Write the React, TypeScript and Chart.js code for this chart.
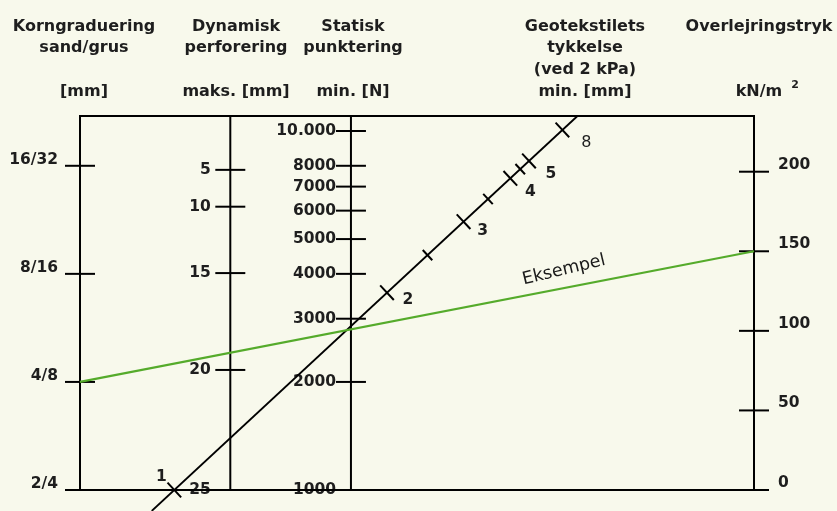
import React, { useEffect, useRef } from 'react';
import { Chart, registerables, LinearScale } from 'chart.js';

Chart.register(...registerables);

// ---------------- data ----------------
const GRAIN_CLASSES = ['2/4', '4/8', '8/16', '16/32'];
const GRAIN_LOWER = [2, 4, 8, 16];
const DYN_TICKS = [5, 10, 15, 20, 25];
const DYN_POS = [0.856, 0.7575, 0.58, 0.321, 0];
const STAT_TICKS = [1000, 2000, 3000, 4000, 5000, 6000, 7000, 8000, 10000];
const PRESS_TICKS = [0, 50, 100, 150, 200];
const THICK_LABELLED = [1, 2, 3, 4, 5, 8];
const THICK_MINOR = [2.5, 3.5, 4.5];
const THICK_VALUES = [1, 2, 2.5, 3, 3.5, 4, 4.5, 5, 8];
const THICK_POS = [0, 0.5275, 0.628, 0.7174, 0.778, 0.8334, 0.858, 0.8797, 0.9626];
const EXAMPLE_GRAIN = 4; // class '4/8'
const EXAMPLE_PRESS = 150;
const EXAMPLE_LABEL = 'Eksempel';

const HEAD_KORN = ['Korngraduering', 'sand/grus', '', '[mm]'];
const HEAD_DYN = ['Dynamisk', 'perforering', '', 'maks. [mm]'];
const HEAD_STAT = ['Statisk', 'punktering', '', 'min. [N]'];
const HEAD_GEO = ['Geotekstilets', 'tykkelse', '(ved 2 kPa)', 'min. [mm]'];
const HEAD_OVER = ['Overlejringstryk', '', '', 'kN/m'];
const UNIT_SUP = '2';

// scale ranges
const STAT_MIN = 1000;
const STAT_MAX = 11010;
const GRAIN_MIN = 2;
const GRAIN_MAX = (GRAIN_MIN * STAT_MAX) / STAT_MIN;
const PRESS_MAX = 235;

// ---------------- layout / style ----------------
const W = 837;
const H = 511;
const BG = '#f8f9ec';
const INK = '#000000';
const TEXT = '#1e1e1e';
const GREEN = '#55ab2b';
const FONT = '"DejaVu Sans", sans-serif';

// nomogram units: chart area spans 0..100 horizontally and vertically
const X_GRAIN = 0;
const X_DYN = 22.3;
const X_STAT = 40.2;
const X_PRESS = 100;
const X_DYN_LBL = 19.4;
const X_STAT_LBL = 38.0;
const DIAG = { x0: 10.64, y0: -5.61, x1: 73.81, y1: 100 };

function interp(v: number, xs: number[], ys: number[]) {
  for (let i = 0; i < xs.length - 1; i++) {
    const a = xs[i];
    const b = xs[i + 1];
    if ((v - a) * (v - b) <= 0 && a !== b) return ys[i] + ((ys[i + 1] - ys[i]) * (v - a)) / (b - a);
  }
  const n = xs.length;
  const i = Math.abs(v - xs[0]) < Math.abs(v - xs[n - 1]) ? 0 : n - 2;
  return ys[i] + ((ys[i + 1] - ys[i]) * (v - xs[i])) / (xs[i + 1] - xs[i]);
}

const diagX = (f: number) =>
  (DIAG.x0 + ((DIAG.x1 - DIAG.x0) * (100 * f - DIAG.y0)) / (DIAG.y1 - DIAG.y0)) / 100;

function makeAnchoredScale(id: string, values: number[], decimals: number[], tickValues: number[]) {
  return class extends LinearScale {
    static id = id;
    static defaults = {};
    determineDataLimits() {
      (this as any).min = Math.min(...values);
      (this as any).max = Math.max(...values);
    }
    buildTicks() {
      return tickValues.map((v) => ({ value: v }));
    }
    getPixelForValue(v: number) {
      return this.getPixelForDecimal(interp(v, values, decimals));
    }
    getValueForPixel(p: number) {
      return interp(this.getDecimalForPixel(p), decimals, values);
    }
  };
}

const DynScale = makeAnchoredScale('dynAnchored', DYN_TICKS, DYN_POS, DYN_TICKS);
const ThickYScale = makeAnchoredScale('thickYAnchored', THICK_VALUES, THICK_POS, THICK_VALUES);
const ThickXScale = makeAnchoredScale('thickXAnchored', THICK_VALUES, THICK_POS.map(diagX), THICK_VALUES);
Chart.register(DynScale as any, ThickYScale as any, ThickXScale as any);

const tickFont = { family: FONT, size: 15.5, weight: 'bold' as const };

const lineDs = (data: any[], color: string, width: number) => ({
  data,
  showLine: true,
  borderColor: color,
  borderWidth: width,
  pointRadius: 0,
  xAxisID: 'x',
  yAxisID: 'y',
  clip: false as any,
});

const tickDs = (data: any[], xAxisID: string, yAxisID: string, radius: number, rotation: number, width: number) => ({
  data,
  showLine: false,
  pointStyle: 'line' as const,
  pointRadius: radius,
  pointRotation: rotation,
  pointBorderWidth: width,
  pointBorderColor: INK,
  pointBackgroundColor: INK,
  xAxisID,
  yAxisID,
  clip: false as any,
});

const noGrid = (tickLength: number) => ({
  grid: { display: false, drawTicks: tickLength > 0, tickLength },
  border: { display: false },
});

const textPlugin = {
  id: 'nomoText',
  afterDraw(chart: any) {
    const ctx = chart.ctx as CanvasRenderingContext2D;
    ctx.save();
    ctx.fillStyle = TEXT;
    ctx.textAlign = 'center';
    ctx.textBaseline = 'alphabetic';
    ctx.font = `bold 16px ${FONT}`;
    const rows = [31, 52, 74, 96];
    const cols: [string[], number][] = [
      [HEAD_KORN, 84],
      [HEAD_DYN, 236],
      [HEAD_STAT, 353],
      [HEAD_GEO, 585],
      [HEAD_OVER, 759],
    ];
    cols.forEach(([lines, cx]) => {
      lines.forEach((t, r) => {
        if (t) ctx.fillText(t, cx, rows[r]);
      });
    });
    // superscript of kN/m2
    const wUnit = ctx.measureText(HEAD_OVER[3]).width;
    ctx.font = `bold 11px ${FONT}`;
    ctx.textAlign = 'left';
    ctx.fillText(UNIT_SUP, 759 + wUnit / 2 + 9, 88);

    // thickness labels along the diagonal
    const sx = chart.scales.thickX;
    const sy = chart.scales.thickY;
    const offs = [[-13, -13.5], [21, 7], [19, 9], [20, 14], [22, 13], [24, 12.5]];
    ctx.textAlign = 'center';
    ctx.textBaseline = 'middle';
    THICK_LABELLED.forEach((t, i) => {
      const px = sx.getPixelForValue(t);
      const py = sy.getPixelForValue(t);
      ctx.font = t === 8 ? `16px ${FONT}` : `bold 15.5px ${FONT}`;
      ctx.fillText(String(t), px + offs[i][0], py + offs[i][1]);
    });

    // example label
    const lx = chart.scales.x.getPixelForValue(X_GRAIN);
    const ly = chart.scales.grain.getPixelForValue(EXAMPLE_GRAIN);
    const rx = chart.scales.x.getPixelForValue(X_PRESS);
    const ry = chart.scales.press.getPixelForValue(EXAMPLE_PRESS);
    const u = 0.718;
    ctx.translate(lx + u * (rx - lx), ly + u * (ry - ly) - 18);
    ctx.rotate((-13.5 * Math.PI) / 180);
    ctx.font = `17.5px ${FONT}`;
    ctx.fillStyle = '#1a1a1a';
    ctx.fillText(EXAMPLE_LABEL, 0, 0);
    ctx.restore();
  },
};

export default function App() {
  const ref = useRef<HTMLCanvasElement>(null);
  useEffect(() => {
    const canvas = ref.current;
    if (!canvas) return;
    Chart.defaults.font.family = FONT;
    const chart = new Chart(canvas, {
      type: 'scatter',
      data: {
        datasets: [
          lineDs([], GREEN, 2.2) as any,
          lineDs([{ x: DIAG.x0, y: DIAG.y0 }, { x: DIAG.x1, y: DIAG.y1 }], INK, 1.8),
          lineDs(
            [
              { x: X_GRAIN, y: 0 },
              { x: X_GRAIN, y: 100 },
              { x: X_PRESS, y: 100 },
              { x: X_PRESS, y: 0 },
              { x: X_GRAIN, y: 0 },
            ],
            INK,
            2
          ),
          lineDs([{ x: X_DYN, y: 0 }, { x: X_DYN, y: 100 }], INK, 2),
          lineDs([{ x: X_STAT, y: 0 }, { x: X_STAT, y: 100 }], INK, 2),
          tickDs(GRAIN_LOWER.map((v) => ({ x: X_GRAIN, y: v })), 'x', 'grain', 15, 0, 2),
          tickDs(DYN_TICKS.map((v) => ({ x: X_DYN, y: v })), 'x', 'dyn', 15, 0, 2),
          tickDs(STAT_TICKS.map((v) => ({ x: X_STAT, y: v })), 'x', 'stat', 15, 0, 2),
          tickDs(PRESS_TICKS.map((v) => ({ x: X_PRESS, y: v })), 'x', 'press', 15, 0, 2),
          tickDs(THICK_LABELLED.map((v) => ({ x: v, y: v })), 'thickX', 'thickY', 10, 47, 2),
          tickDs(THICK_MINOR.map((v) => ({ x: v, y: v })), 'thickX', 'thickY', 7, 47, 2),
        ],
      },
      options: {
        animation: false,
        responsive: false,
        devicePixelRatio: 1,
        events: [],
        layout: { padding: { top: 116, bottom: 21, left: 0, right: 0 } },
        plugins: { legend: { display: false }, tooltip: { enabled: false }, title: { display: false } },
        scales: {
          x: { type: 'linear', min: 0, max: 100, display: false },
          y: { type: 'linear', min: 0, max: 100, display: false },
          thickX: { type: 'thickXAnchored' as any, axis: 'x', position: 'bottom', display: false },
          thickY: { type: 'thickYAnchored' as any, axis: 'y', position: 'left', display: false },
          grain: {
            type: 'logarithmic',
            axis: 'y',
            position: 'left',
            min: GRAIN_MIN,
            max: GRAIN_MAX,
            ...noGrid(22),
            ticks: {
              autoSkip: false,
              padding: 0,
              labelOffset: -6,
              font: tickFont,
              color: TEXT,
              callback: (v: any) => GRAIN_CLASSES[GRAIN_LOWER.indexOf(Number(v))] ?? '',
            },
            afterBuildTicks: (s: any) => {
              s.ticks = GRAIN_LOWER.map((v) => ({ value: v }));
            },
            afterFit: (s: any) => {
              s.width = 80;
            },
          },
          press: {
            type: 'linear',
            axis: 'y',
            position: 'right',
            min: 0,
            max: PRESS_MAX,
            ...noGrid(24),
            ticks: { autoSkip: false, padding: 0, labelOffset: -7, font: tickFont, color: TEXT },
            afterBuildTicks: (s: any) => {
              s.ticks = PRESS_TICKS.map((v) => ({ value: v }));
            },
            afterFit: (s: any) => {
              s.width = W - 754;
            },
          },
          stat: {
            type: 'logarithmic',
            axis: 'y',
            position: { x: X_STAT_LBL },
            min: STAT_MIN,
            max: STAT_MAX,
            ...noGrid(0),
            ticks: {
              autoSkip: false,
              padding: 0,
              font: tickFont,
              color: TEXT,
              callback: (v: any) => (Number(v) === 10000 ? '10.000' : String(v)),
            },
            afterBuildTicks: (s: any) => {
              s.ticks = STAT_TICKS.map((v) => ({ value: v }));
            },
          },
          dyn: {
            type: 'dynAnchored' as any,
            axis: 'y',
            position: { x: X_DYN_LBL },
            ...noGrid(0),
            ticks: {
              autoSkip: false,
              padding: 0,
              font: tickFont,
              color: TEXT,
              callback: (v: any) => String(v),
            },
          },
        } as any,
      },
      plugins: [textPlugin],
    });
    // route the example line through the library's own scales
    const ys = chart.scales.y;
    const yl = ys.getValueForPixel(chart.scales.grain.getPixelForValue(EXAMPLE_GRAIN));
    const yr = ys.getValueForPixel(chart.scales.press.getPixelForValue(EXAMPLE_PRESS));
    chart.data.datasets[0].data = [
      { x: X_GRAIN, y: yl },
      { x: X_PRESS, y: yr },
    ] as any;
    chart.update('none');
    return () => chart.destroy();
  }, []);
  return (
    <div style={{ position: 'fixed', left: 0, top: 0, width: W, height: H, background: BG }}>
      <canvas ref={ref} width={W} height={H} style={{ display: 'block' }} />
    </div>
  );
}
